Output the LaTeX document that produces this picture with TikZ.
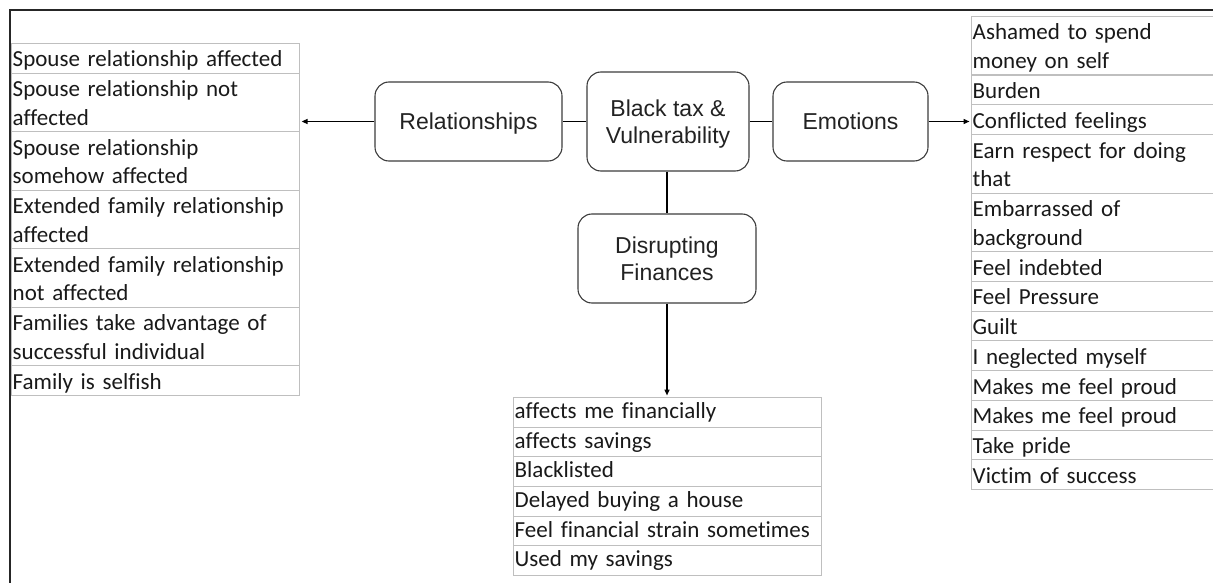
\documentclass[tikz,border=0pt]{standalone}
\usepackage{fontspec}
\setmainfont{Liberation Sans}
\newfontfamily\cellfont[Ligatures={NoCommon}]{Carlito}
\usetikzlibrary{arrows.meta}

\definecolor{gridgrey}{RGB}{191,191,191}
\definecolor{boxline}{RGB}{60,60,60}
\definecolor{inktext}{RGB}{34,34,34}

\begin{document}
\begin{tikzpicture}[x=1pt,y=-1pt,
  topic/.style={draw=boxline, line width=1.1pt, rounded corners=14pt, align=center,
    text=inktext, font=\fontsize{23}{27}\selectfont, text depth=0pt, inner sep=0pt},
  cell/.style={draw=gridgrey, line width=1.1pt, inner sep=0pt, anchor=north west},
  celltext/.style={font=\cellfont\fontsize{23}{28.5}\selectfont, text=black!90,
    inner sep=0pt, anchor=base west, align=left},
  link/.style={line width=1.4pt, black},
  feed/.style={link, -{Triangle[length=6pt,width=5pt]}, shorten >=1.5pt},
  outerframe/.style={line width=2pt, black!85}
]
\useasboundingbox (0,0) rectangle (1213,583);

% left table: relationships
\foreach \n/\t/\h/\txt in {
  l1/43/29.75/{Spouse relationship affected},
  l2/72.75/58.5/{Spouse relationship not\\affected},
  l3/131.25/58.5/{Spouse relationship\\somehow affected},
  l4/189.75/58.5/{Extended family relationship\\affected},
  l5/248.25/58.5/{Extended family relationship\\not affected},
  l6/306.75/58.5/{Families take advantage of\\successful individual},
  l7/365.25/29.75/{Family is selfish}}{
  \node[cell, minimum width=288pt, minimum height=\h pt] (\n) at (11,\t) {};
  \node[celltext, text width=284pt] (\n-t) at ([xshift=1.5pt,yshift=-24pt]\n.north west) {\txt};
}

% right table: emotions
\foreach \n/\t/\h/\txt in {
  r1/16/58.5/{Ashamed to spend\\money on self},
  r2/74.5/29.75/{Burden},
  r3/104.25/29.75/{Conflicted feelings},
  r4/134/58.5/{Earn respect for doing\\that},
  r5/192.5/58.5/{Embarrassed of\\background},
  r6/251/29.75/{Feel indebted},
  r7/280.75/29.75/{Feel Pressure},
  r8/310.5/29.75/{Guilt},
  r9/340.25/29.75/{I neglected myself},
  r10/370/29.75/{Makes me feel proud},
  r11/399.75/29.75/{Makes me feel proud},
  r12/429.5/29.75/{Take pride},
  r13/459.25/29.75/{Victim of success}}{
  \node[cell, minimum width=250pt, minimum height=\h pt] (\n) at (971,\t) {};
  \node[celltext, text width=240pt] (\n-t) at ([xshift=1.5pt,yshift=-24pt]\n.north west) {\txt};
}

% bottom table: finances
\foreach \n/\t/\txt in {
  b1/397/{affects me financially},
  b2/426.67/{affects savings},
  b3/456.33/{Blacklisted},
  b4/486/{Delayed buying a house},
  b5/515.67/{Feel financial strain sometimes},
  b6/545.33/{Used my savings}}{
  \node[cell, minimum width=308pt, minimum height=29.67pt] (\n) at (513,\t) {};
  \node[celltext, text width=300pt] (\n-t) at ([xshift=1.5pt,yshift=-21.5pt]\n.north west) {\txt};
}

% theme boxes
\node[topic, minimum width=162pt, minimum height=99pt] (blk) at (668,121.5) {Black tax \&\\Vulnerability};
\node[topic, minimum width=187pt, minimum height=79pt] (rel) at (468.5,121.5) {Relationships};
\node[topic, minimum width=155pt, minimum height=79pt] (emo) at (850.5,121.5) {Emotions};
\node[topic, minimum width=178pt, minimum height=89pt] (dis) at (667,258.5) {Disrupting\\Finances};

% connectors
\draw[link] (blk.west) -- (rel.east);
\draw[link] (blk.east) -- (emo.west);
\draw[link] (blk.south -| dis.north) -- (dis.north);
\draw[feed] (rel.west) -- (rel.west -| l2.east);
\draw[feed] (emo.east) -- (emo.east -| r3.west);
\draw[feed] (dis.south) -- (dis.south |- b1.north);

% outer frame
\coordinate (fTL) at (10,10);
\coordinate (fTR) at (1213,10);
\coordinate (fBL) at (10,583);
\draw[outerframe] (fTR) -- (fTL) -- (fBL);
\end{tikzpicture}
\end{document}
